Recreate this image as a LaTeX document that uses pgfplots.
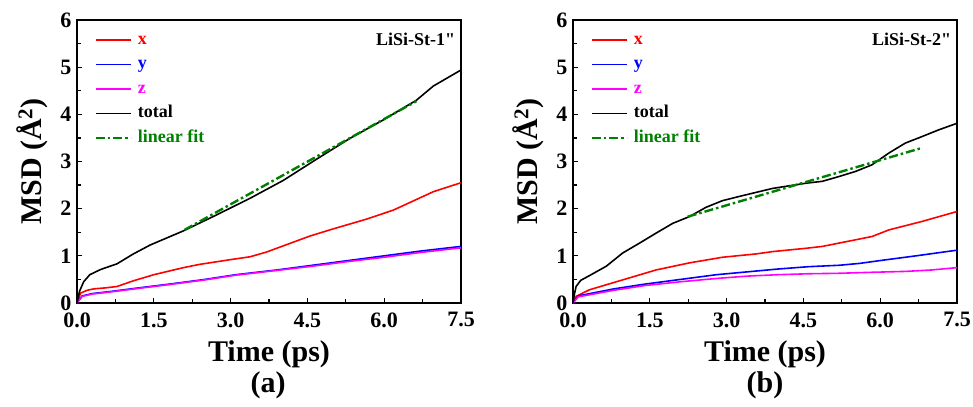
\documentclass[border=0pt]{standalone}
\usepackage{fontspec}
\setmainfont{Liberation Serif}
\newfontfamily\rawserif{Liberation Serif}[Ligatures=TeXOff]
\usepackage{pgfplots}
\pgfplotsset{compat=1.18}
\definecolor{fitgreen}{RGB}{0,128,0}
\definecolor{msdmag}{RGB}{255,0,255}

\pgfplotsset{
  msdpanel/.style={
    scale only axis,
    width=384bp, height=283bp,
    xmin=0, xmax=7.5, ymin=0, ymax=6,
    xtick={0,1.5,3,4.5,6,7.5},
    minor xtick={0.75,2.25,3.75,5.25,6.75},
    ytick={0,1,2,3,4,5,6},
    minor ytick={0.5,1.5,2.5,3.5,4.5,5.5},
    tick pos=left,
    tick align=inside,
    major tick length=5bp, minor tick length=4bp,
    every tick/.style={line width=1.2bp, black},
    axis line style={line width=1.6bp},
    /pgf/number format/assume math mode=true,
    xticklabel style={font=\fontsize{22bp}{22bp}\selectfont\bfseries,
      /pgf/number format/fixed, /pgf/number format/fixed zerofill,
      /pgf/number format/precision=1, yshift=-6bp},
    yticklabel style={font=\fontsize{22bp}{22bp}\selectfont\bfseries, xshift=-2bp},
    xlabel={Time (ps)},
    xlabel style={font=\fontsize{30bp}{30bp}\selectfont\bfseries, yshift=-6bp},
    ylabel={MSD (\AA$^{\mathbf{2}}$)},
    ylabel style={font=\fontsize{30bp}{30bp}\selectfont\bfseries, yshift=6bp},
    legend style={draw=none, fill=none, at={(0.045,0.958)}, anchor=north west,
      font=\fontsize{18bp}{18bp}\selectfont\bfseries,
      nodes={text height=12bp, text depth=4bp, inner sep=0pt},
      row sep=8.5bp, column sep=6bp, inner sep=0pt},
    legend cell align=left,
    legend image code/.code={\draw[#1] (0bp,0bp) -- (35bp,0bp);},
    every axis plot/.append style={line width=1.6bp},
  },
  fitline/.style={fitgreen, line width=2.4bp,
    dash pattern=on 9bp off 3bp on 2.5bp off 3bp},
}

\begin{document}
\begin{tikzpicture}[x=1bp,y=1bp]
\useasboundingbox (0,0) rectangle (973,406);

% ---------- panel (a)
\begin{axis}[msdpanel, at={(77bp,103bp)}, anchor=south west]
\addplot[red] coordinates {
 (0,0) (0.07,0.21) (0.2,0.27) (0.33,0.30) (0.55,0.32) (0.78,0.35) (1.1,0.47)
 (1.5,0.60) (2.08,0.75) (2.4,0.82) (3.0,0.92) (3.38,0.98) (3.7,1.08)
 (4.0,1.20) (4.55,1.42) (5.0,1.57) (5.66,1.78) (6.18,1.97) (6.96,2.36) (7.5,2.55)};
\addlegendentry{\textcolor{red}{x}}
\addplot[blue] coordinates {
 (0,0) (0.1,0.15) (0.3,0.20) (0.7,0.25) (1.2,0.32) (1.8,0.40) (2.5,0.50)
 (3.1,0.60) (3.9,0.70) (4.6,0.80) (5.3,0.90) (6.0,1.00) (6.7,1.10) (7.5,1.20)};
\addlegendentry{\textcolor{blue}{y}}
\addplot[msdmag] coordinates {
 (0,0) (0.1,0.14) (0.3,0.19) (0.7,0.24) (1.2,0.31) (1.8,0.39) (2.5,0.49)
 (3.1,0.59) (3.9,0.69) (4.6,0.78) (5.3,0.88) (6.0,0.97) (6.7,1.07) (7.5,1.17)};
\addlegendentry{\textcolor{msdmag}{z}}
\addplot[black] coordinates {
 (0,0) (0.05,0.25) (0.13,0.45) (0.25,0.6) (0.46,0.71) (0.78,0.83) (1.1,1.04)
 (1.43,1.23) (2.08,1.53) (2.73,1.87) (3.38,2.22) (4.03,2.60) (4.68,3.05)
 (5.33,3.49) (5.98,3.88) (6.63,4.30) (6.96,4.60) (7.5,4.94)};
\addlegendentry{total}
\addplot[fitline] coordinates {(2.1,1.55) (6.63,4.28)};
\addlegendentry{\textcolor{fitgreen}{linear fit}}
\node[anchor=north east, font=\fontsize{18bp}{18bp}\selectfont\bfseries, inner sep=0pt]
  at (rel axis cs:0.985,0.955) {LiSi-St-1{\rawserif\bfseries"}};
\end{axis}
\node[font=\fontsize{30bp}{30bp}\selectfont\bfseries] at (268,21) {(a)};

% ---------- panel (b)
\begin{axis}[msdpanel, at={(573bp,103bp)}, anchor=south west]
\addplot[red] coordinates {
 (0,0) (0.06,0.14) (0.32,0.28) (0.97,0.49) (1.62,0.70) (2.27,0.85)
 (2.92,0.97) (3.57,1.04) (3.9,1.09) (4.55,1.16) (4.87,1.20) (5.52,1.34)
 (5.84,1.41) (6.17,1.55) (6.82,1.73) (7.5,1.94)};
\addlegendentry{\textcolor{red}{x}}
\addplot[blue] coordinates {
 (0,0) (0.1,0.15) (0.8,0.30) (1.4,0.40) (2.1,0.50) (2.8,0.60) (3.4,0.66)
 (4.0,0.72) (4.6,0.77) (5.2,0.80) (5.6,0.84) (6.0,0.90) (6.7,1.00) (7.5,1.12)};
\addlegendentry{\textcolor{blue}{y}}
\addplot[msdmag] coordinates {
 (0,0) (0.1,0.13) (0.8,0.27) (1.4,0.37) (2.1,0.45) (2.8,0.52) (3.4,0.57)
 (4.0,0.60) (4.6,0.62) (5.2,0.63) (5.8,0.65) (6.5,0.67) (7.0,0.70) (7.5,0.75)};
\addlegendentry{\textcolor{msdmag}{z}}
\addplot[black] coordinates {
 (0,0) (0.03,0.2) (0.06,0.35) (0.15,0.48) (0.32,0.58) (0.65,0.78) (0.97,1.06)
 (1.3,1.27) (1.62,1.48) (1.95,1.69) (2.27,1.83) (2.6,2.03) (2.92,2.17)
 (3.25,2.26) (3.9,2.43) (4.55,2.54) (4.87,2.58) (5.19,2.68) (5.52,2.79)
 (5.84,2.93) (6.17,3.18) (6.49,3.39) (6.82,3.53) (7.14,3.67) (7.5,3.81)};
\addlegendentry{total}
\addplot[fitline] coordinates {(2.24,1.83) (6.79,3.28)};
\addlegendentry{\textcolor{fitgreen}{linear fit}}
\node[anchor=north east, font=\fontsize{18bp}{18bp}\selectfont\bfseries, inner sep=0pt]
  at (rel axis cs:0.985,0.955) {LiSi-St-2{\rawserif\bfseries"}};
\end{axis}
\node[font=\fontsize{30bp}{30bp}\selectfont\bfseries] at (765,21) {(b)};
\end{tikzpicture}
\end{document}
